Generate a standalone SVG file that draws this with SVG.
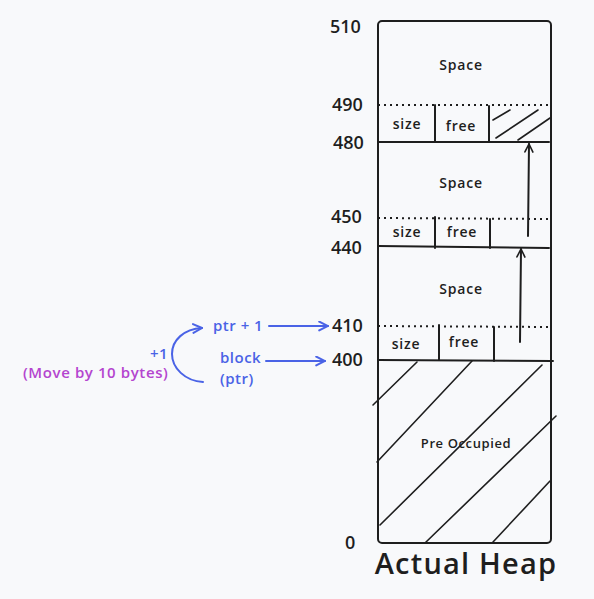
<svg xmlns="http://www.w3.org/2000/svg" width="594" height="599" viewBox="0 0 594 599">
<defs>
<style>
.bg{fill:#f8f9fb}
.ln{stroke:#1e1e1e;stroke-width:2;fill:none;stroke-linecap:round}
.dot{stroke:#1e1e1e;stroke-width:2;fill:none;stroke-dasharray:2 4}
.hat{stroke:#1e1e1e;stroke-width:1.6;fill:none;stroke-linecap:round}
.num{font-family:"Open Sans","Liberation Sans",sans-serif;font-size:18px;font-weight:600;fill:#1e1e1e}
.lab{font-family:"Open Sans","Liberation Sans",sans-serif;font-size:14px;font-weight:600;letter-spacing:0.8px;fill:#1e1e1e;text-anchor:middle}
.small{font-family:"Open Sans","Liberation Sans",sans-serif;font-size:13px;font-weight:600;letter-spacing:0.6px;fill:#1e1e1e;text-anchor:middle}
.blue{font-family:"Open Sans","Liberation Sans",sans-serif;font-size:15px;font-weight:600;letter-spacing:0.5px;fill:#4a63e6}
.purple{font-family:"Open Sans","Liberation Sans",sans-serif;font-size:15px;font-weight:600;letter-spacing:0.6px;fill:#b445cf}
.bl{stroke:#4a63e6;stroke-width:2;fill:none;stroke-linecap:round}
</style>
<marker id="ah" viewBox="0 0 10 10" refX="9" refY="5" markerWidth="10" markerHeight="10" markerUnits="userSpaceOnUse" orient="auto">
<path d="M1,1 L9,5 L1,9" fill="none" stroke="#1e1e1e" stroke-width="1.6" stroke-linecap="round"/>
</marker>
<marker id="ahb" viewBox="0 0 10 10" refX="9" refY="5" markerWidth="11" markerHeight="11" markerUnits="userSpaceOnUse" orient="auto">
<path d="M1,1 L9,5 L1,9" fill="none" stroke="#4a63e6" stroke-width="1.8" stroke-linecap="round"/>
</marker>
</defs>
<rect class="bg" x="0" y="0" width="594" height="599"/>

<g id="heap">
<rect x="378" y="21" width="173" height="522" rx="4" class="ln"/>
<text x="461" y="70" class="lab">Space</text>
<text x="461" y="188" class="lab">Space</text>
<text x="461" y="294" class="lab">Space</text>
</g>

<g id="block-480">
<line x1="378" y1="105" x2="551" y2="105" class="dot"/>
<line x1="378" y1="142" x2="549" y2="142" class="ln"/>
<line x1="435" y1="105" x2="435" y2="142" class="ln"/>
<line x1="489" y1="106" x2="489" y2="142" class="ln"/>
<text x="407" y="129" class="lab">size</text>
<text x="461" y="131" class="lab">free</text>
<line x1="493" y1="120" x2="510" y2="110" class="hat"/>
<line x1="496" y1="138" x2="538" y2="110" class="hat"/>
<line x1="518" y1="140" x2="550" y2="118" class="hat"/>
</g>

<g id="block-440">
<line x1="378" y1="218" x2="551" y2="219" class="dot"/>
<line x1="378" y1="246" x2="549" y2="248" class="ln"/>
<line x1="435" y1="217" x2="435" y2="248" class="ln"/>
<line x1="490" y1="219" x2="490" y2="248" class="ln"/>
<text x="407" y="237" class="lab">size</text>
<text x="462" y="237" class="lab">free</text>
</g>

<g id="block-400">
<line x1="378" y1="326" x2="551" y2="327" class="dot"/>
<line x1="378" y1="360" x2="553" y2="361" class="ln"/>
<line x1="439" y1="325" x2="439" y2="360" class="ln"/>
<line x1="494" y1="327" x2="494" y2="361" class="ln"/>
<text x="406" y="349" class="lab">size</text>
<text x="464" y="347" class="lab">free</text>
</g>

<g id="pre-occupied">
<line x1="373" y1="405" x2="417" y2="362" class="hat"/>
<line x1="377" y1="462" x2="472" y2="361" class="hat"/>
<line x1="380" y1="525" x2="542" y2="365" class="hat"/>
<line x1="425" y1="543" x2="556" y2="416" class="hat"/>
<line x1="493" y1="542" x2="550" y2="481" class="hat"/>
<text x="466" y="448" class="small">Pre Occupied</text>
</g>

<g id="axis-labels">
<text x="330" y="33" class="num">510</text>
<text x="332" y="111" class="num">490</text>
<text x="333" y="149" class="num">480</text>
<text x="331" y="223" class="num">450</text>
<text x="331" y="254" class="num">440</text>
<text x="332" y="332" class="num">410</text>
<text x="332" y="366" class="num">400</text>
<text x="345" y="549" class="num">0</text>
<text x="466" y="574" style="font-family:'Open Sans','Liberation Sans',sans-serif;font-size:29px;font-weight:600;letter-spacing:1.2px;fill:#1e1e1e;text-anchor:middle">Actual Heap</text>
</g>

<g id="pointer-labels">
<text x="213" y="331" class="blue">ptr + 1</text>
<text x="220" y="363" class="blue">block</text>
<text x="220" y="384" class="blue">(ptr)</text>
<text x="150" y="359" class="blue">+1</text>
<text x="23" y="378" class="purple">(Move by 10 bytes)</text>
</g>

<g id="connectors">
<line x1="528" y1="236" x2="529" y2="144" class="ln" marker-end="url(#ah)"/>
<line x1="520" y1="342" x2="521" y2="249" class="ln" marker-end="url(#ah)"/>
<line x1="269" y1="326" x2="328" y2="326" class="bl" marker-end="url(#ahb)"/>
<line x1="266" y1="361" x2="325" y2="361" class="bl" marker-end="url(#ahb)"/>
<path d="M203,382 C185,381 172,368 172,354 C172,340 184,329 202,328" class="bl" marker-end="url(#ahb)"/>
</g>
</svg>
